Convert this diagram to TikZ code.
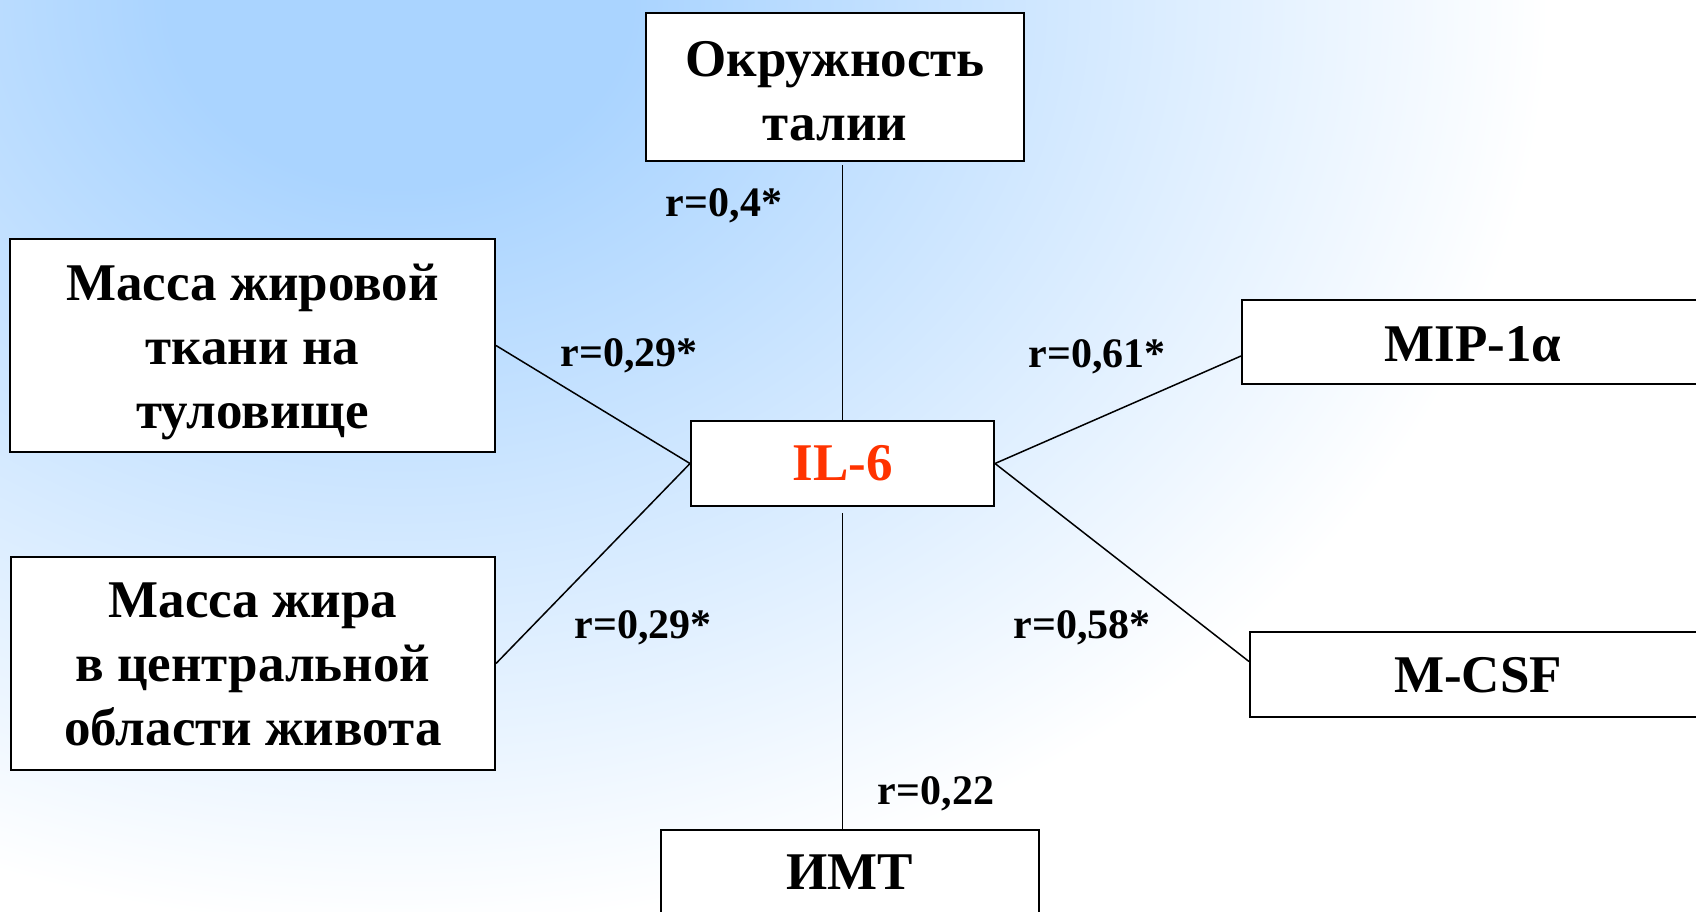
\documentclass[tikz,border=0pt]{standalone}
\usepackage{fontspec}
\setmainfont{Liberation Serif}
\definecolor{bgblue}{RGB}{170,212,255}
\definecolor{ilred}{RGB}{255,51,0}
\pgfdeclareradialshading{bgshade}{\pgfpoint{0bp}{0bp}}{color(0bp)=(bgblue); color(5bp)=(bgblue); color(25bp)=(white); color(50bp)=(white)}
\newcommand\bxt[2]{\raisebox{#1}[\height][\depth]{\begin{tabular}{@{}c@{}}#2\end{tabular}}}
\begin{document}
\begin{tikzpicture}[x=0.5pt,y=-0.5pt,
  box/.style={draw=black, line width=1pt, fill=white, inner sep=0pt, align=center,
    font=\fontsize{26.5}{32}\selectfont\bfseries},
  lbl/.style={font=\fontsize{21}{25}\selectfont\bfseries, inner sep=0pt, anchor=base},
  conn/.style={line width=0.75pt}]
\clip (0,0) rectangle (1696,911);
\useasboundingbox (0,0) rectangle (1696,911);
\fill[white] (0,0) rectangle (1696,911);
\shade[shading=bgshade] (400,0) ellipse [x radius=575pt, y radius=465pt];

\node[box, minimum width=189pt, minimum height=74pt] (waist) at (835,87) {\bxt{-4.3pt}{Окружность\\талии}};
\node[box, minimum width=242.5pt, minimum height=106.5pt] (fat1) at (252.5,345.5) {\bxt{-3.2pt}{Масса жировой\\ткани на\\туловище}};
\node[box, minimum width=242pt, minimum height=106.5pt] (fat2) at (253,663.5) {\bxt{-2.7pt}{Масса жира\\в центральной\\области живота}};
\node[box, minimum width=151.5pt, minimum height=42.5pt, text=ilred] (il6) at (842.5,463.5) {\bxt{-2.2pt}{IL-6}};
\node[box, minimum width=231pt, minimum height=42pt] (mip) at (1473,342) {\bxt{-3.2pt}{MIP-1α}};
\node[box, minimum width=228pt, minimum height=42.5pt] (mcsf) at (1478,674.5) {\bxt{-2.7pt}{M-CSF}};
\node[box, anchor=north, minimum width=189pt, inner ysep=0pt, text height=29.75pt, text depth=60pt] (imt) at (850,829) {ИМТ};

\draw[conn, shorten >=1.5pt] (il6.north) -- (il6.north |- waist.south);
\draw[conn, shorten <=3pt] (il6.south) -- (il6.south |- imt.north);
\draw[conn] (fat1.east) -- (il6.west);
\draw[conn] (fat2.east) -- (il6.west);
\draw[conn] (il6.east) -- ([yshift=-7pt]mip.west);
\draw[conn] (il6.east) -- ([yshift=6.5pt]mcsf.west);

\node[lbl] (l1) at (724,216) {r=0,4*};
\node[lbl] (l2) at (629,366) {r=0,29*};
\node[lbl] (l3) at (643,638) {r=0,29*};
\node[lbl] (l4) at (1097,367) {r=0,61*};
\node[lbl] (l5) at (1082,638) {r=0,58*};
\node[lbl] (l6) at (936,804) {r=0,22};
\end{tikzpicture}
\end{document}
